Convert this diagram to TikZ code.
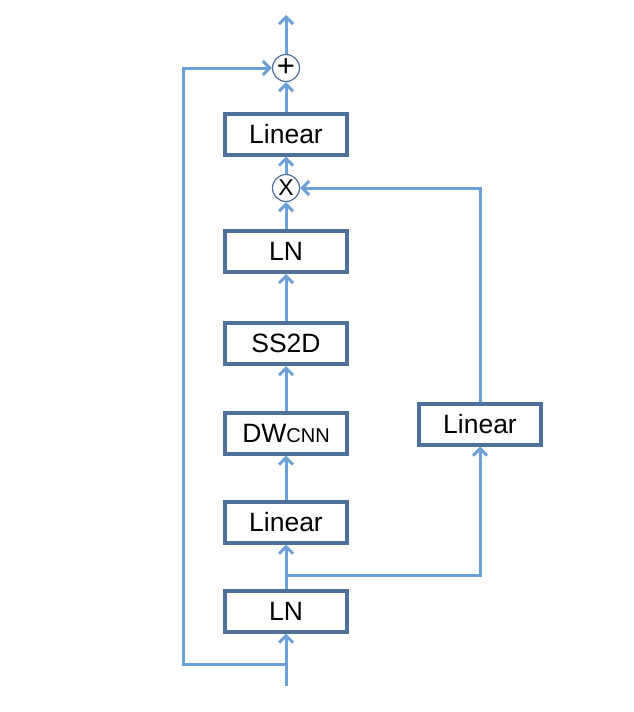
\documentclass[tikz,border=0pt]{standalone}
\usepackage{fontspec}
\setmainfont{Liberation Sans}
\usepackage{tikz}
\usetikzlibrary{arrows.meta}
\definecolor{boxblue}{RGB}{79,112,152}
\definecolor{lineblue}{RGB}{108,160,214}

\begin{document}
\begin{tikzpicture}[x=1pt, y=-1pt, >={Straight Barb[length=7pt,width=14pt]},
    every node/.style={font=\fontsize{26.5}{30}\selectfont},
    block/.style={draw=boxblue, line width=4pt, minimum width=122pt, minimum height=41pt, inner sep=0pt, fill=white},
    op/.style={draw=boxblue, circle, line width=1.2pt, minimum size=27pt, inner sep=0pt, fill=white, font=\fontsize{23}{26}\selectfont},
    flow/.style={->, draw=lineblue, line width=3pt}]
      % page frame, y grows downward like the pixel grid
      \useasboundingbox (0, 0) rectangle (634, 712);
      \def\mid{286}
      \def\rmid{480}

      % main column
      \node [op, font=\fontsize{31}{31}\selectfont] (plus) at (\mid, 68) {+};
      \node [block] (linout) at (\mid, 134) {Linear};
      \node [op] (mul) at (\mid, 188) {X};
      \node [block] (lntop) at (\mid, 251.5) {LN};
      \node [block] (ss) at (\mid, 343.5) {SS2D};
      \node [block] (dw) at (\mid, 433) {DW{\fontsize{20}{22}\selectfont CNN}};
      \node [block] (linin) at (\mid, 522) {Linear};
      \node [block] (lnin) at (\mid, 611) {LN};

      % gate branch
      \node [block] (gate) at (\rmid, 424) {Linear};

      \coordinate (in) at (\mid, 686);
      \coordinate (out) at (\mid, 15);
      \coordinate (split) at (\mid, 664);
      \coordinate (skip) at (183, 664);
      \coordinate (fork) at (\mid, 575);

      \draw [flow] (in) -- (lnin);
      \draw [flow] (lnin) -- (linin);
      \draw [flow] (linin) -- (dw);
      \draw [flow] (dw) -- (ss);
      \draw [flow] (ss) -- (lntop);
      \draw [flow] (lntop) -- (mul);
      \draw [flow] (mul) -- (linout);
      \draw [flow] (linout) -- (plus);
      \draw [flow] (plus) -- (out);

      % residual and gate
      \draw [flow] (split) -- (skip) |- (plus.west);
      \draw [flow] (fork) -| (gate.south);
      \draw [flow] (gate.north) |- (mul.east);
\end{tikzpicture}
\end{document}
